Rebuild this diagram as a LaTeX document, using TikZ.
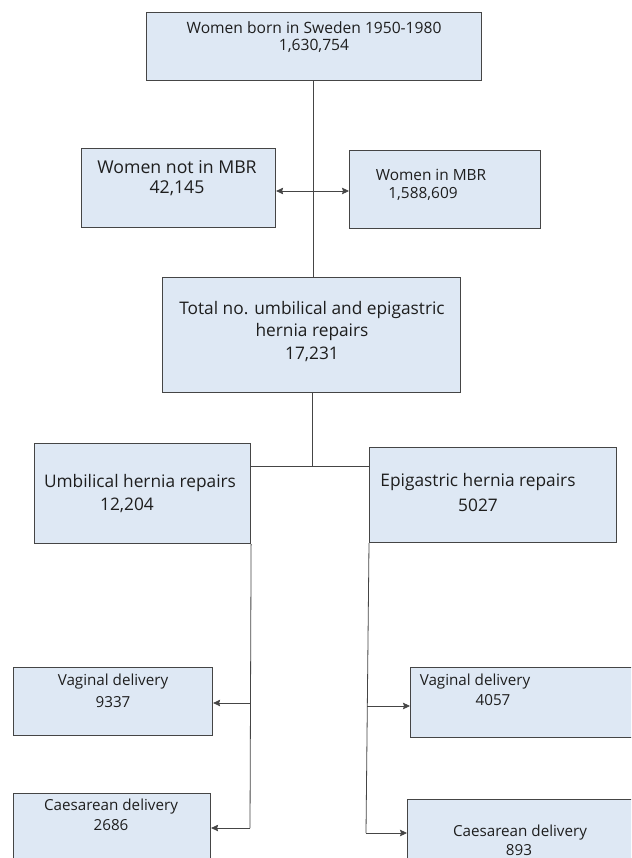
\documentclass[tikz,border=0pt]{standalone}
\usepackage{fontspec}
\setmainfont{Open Sans}
\usetikzlibrary{arrows.meta}
\definecolor{boxfill}{HTML}{DEE8F4}
\definecolor{boxline}{HTML}{454545}
\definecolor{txt}{HTML}{1E1E1E}
\tikzset{
  box/.style={draw=boxline, fill=boxfill, line width=1.1pt, anchor=north west, inner sep=0pt},
  conn/.style={draw=boxline, line width=0.8pt},
  arr/.style={conn, -{Stealth[length=7pt,width=6.5pt,inset=1pt]}},
  lbl/.style={align=center, inner sep=0pt, text=txt},
  fs/.style={font=\fontsize{#1}{#1}\selectfont}
}
\newcommand\mkbox[5]{\node[box, minimum width=#4pt, minimum height=#5pt] (#1) at (#2,#3) {};}
\begin{document}
\begin{tikzpicture}[x=1pt,y=-1pt]
\useasboundingbox (0,0) rectangle (631,858);
\clip (0,0) rectangle (631,858);
% boxes
\mkbox{top}{146}{12}{335}{68}
\mkbox{notmbr}{81}{148}{194}{79}
\mkbox{inmbr}{349}{150}{191}{78}
\mkbox{total}{162}{277}{298}{115}
\mkbox{umb}{34}{443}{216}{100}
\mkbox{epi}{369}{447}{247}{95}
\mkbox{vagL}{13}{667}{199}{68}
\mkbox{caesL}{13}{793}{197}{80}
\mkbox{vagR}{410}{667}{240}{70}
\mkbox{caesR}{407}{799}{240}{80}
% labels
\node[lbl, fs=15.6] (t1) at (314,27.5) {Women born in Sweden 1950-1980};
\node[lbl, fs=15.6] (t2) at (314,46) {1,630,754};
\node[lbl, fs=17.7] (n1) at (177,167) {Women not in MBR};
\node[lbl, fs=17.7] (n2) at (177,188) {42,145};
\node[lbl, fs=15.4] (m1) at (431,175) {Women in MBR};
\node[lbl, fs=15.4] (m2) at (423,193.5) {1,588,609};
\node[lbl, fs=17.3] (o1) at (312,310) {Total no. umbilical and epigastric};
\node[lbl, fs=17.3] (o2) at (312,332) {hernia repairs};
\node[lbl, fs=17.3] (o3) at (312,354) {17,231};
\node[lbl, fs=17.3] (u1) at (140,483) {Umbilical hernia repairs};
\node[lbl, fs=17.3] (u2) at (127,505) {12,204};
\node[lbl, fs=17.3] (e1) at (478,482) {Epigastric hernia repairs};
\node[lbl, fs=17.3] (e2) at (478,505) {5027};
\node[lbl, fs=15.2] (vl1) at (113,682) {Vaginal delivery};
\node[lbl, fs=15.2] (vl2) at (113,702) {9337};
\node[lbl, fs=15.2] (cl1) at (111,807) {Caesarean delivery};
\node[lbl, fs=15.2] (cl2) at (111,825) {2686};
\node[lbl, fs=15.2] (vr1) at (475,682) {Vaginal delivery};
\node[lbl, fs=15.2] (vr2) at (493,700) {4057};
\node[lbl, fs=15.2] (cr1) at (520,833) {Caesarean delivery};
\node[lbl, fs=15.2] (cr2) at (519,850) {893};
% connectors
\coordinate (mid) at (313,191);
\coordinate (jn) at (312,466);
\coordinate (lb) at (250,828);
\coordinate (la) at (250,703);
\coordinate (rb) at (366,833);
\coordinate (ra) at (367,706);
\draw[conn] (top.south -| mid) -- (mid |- total.north);
\draw[arr] (mid) -- (notmbr.east |- mid);
\draw[arr] (mid) -- (inmbr.west |- mid);
\draw[conn] (total.south -| jn) -- (jn);
\draw[conn] (umb.east |- jn) -- (epi.west |- jn);
\draw[conn] (umb.south east) -- (lb);
\draw[arr] (la) -- (vagL.east |- la);
\draw[arr] (lb) -- (caesL.east |- lb);
\draw[conn] (epi.south west) -- (rb);
\draw[arr] (ra) -- (vagR.west |- ra);
\draw[arr] (rb) -- (caesR.west |- rb);
\end{tikzpicture}
\end{document}
